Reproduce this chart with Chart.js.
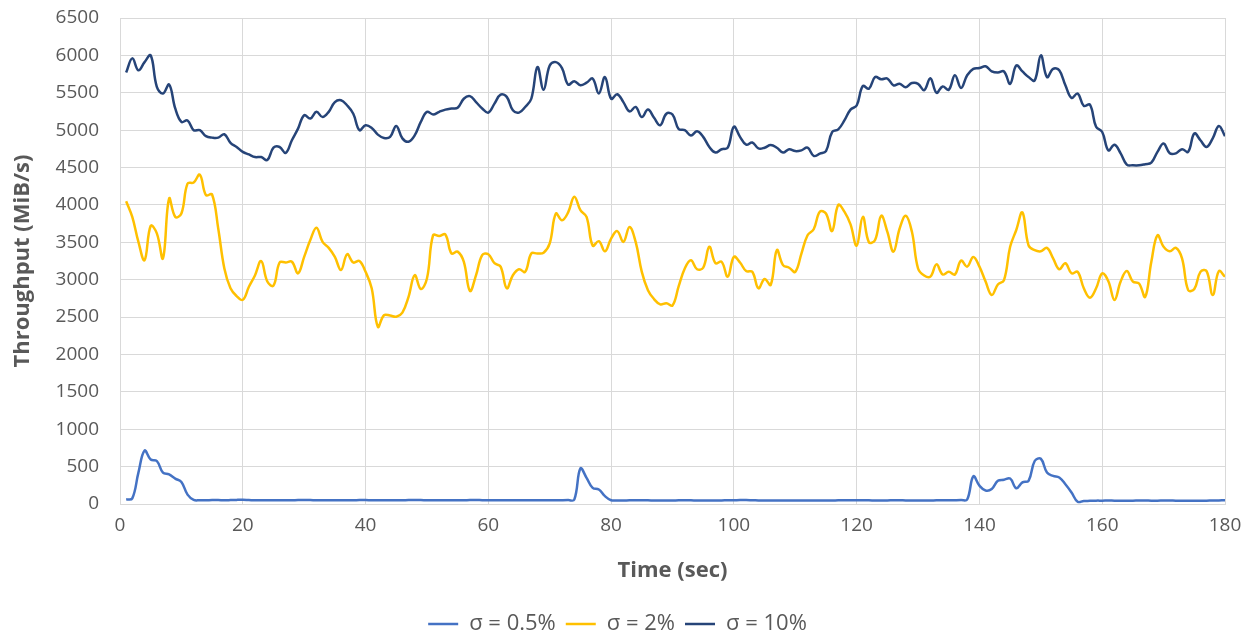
<!DOCTYPE html>
<html>
<head>
<meta charset="utf-8">
<script src="https://cdn.jsdelivr.net/npm/chart.js@4"></script>
<style>
  html, body { margin: 0; padding: 0; background: #ffffff; }
  #wrap { width: 1252px; height: 636px; }
</style>
</head>
<body>
<div id="wrap"><canvas id="throughputChart" width="1252" height="636"></canvas></div>
<script>
// series names (legend)
const seriesNames = ["σ = 0.5%", "σ = 2%", "σ = 10%"];

// throughput (MiB/s), one value per second, t = 1..180
const sigma05 = [
  60, 75, 420, 715, 595, 575, 420, 395, 340, 295,
  125, 55, 50, 50, 52, 52, 50, 52, 55, 56,
  53, 50, 50, 50, 50, 50, 50, 51, 52, 53,
  52, 50, 50, 50, 51, 51, 50, 50, 52, 52,
  51, 50, 50, 50, 50, 51, 52, 52, 52, 51,
  50, 50, 50, 50, 50, 51, 52, 53, 51, 50,
  50, 51, 50, 50, 50, 50, 51, 51, 50, 50,
  50, 50, 52, 58, 475, 350, 215, 195, 105, 50,
  48, 48, 49, 50, 50, 49, 48, 48, 48, 48,
  49, 50, 49, 48, 48, 48, 47, 48, 49, 50,
  52, 52, 50, 48, 47, 48, 48, 48, 48, 47,
  48, 48, 48, 48, 48, 48, 49, 50, 50, 50,
  50, 49, 48, 48, 48, 49, 49, 48, 48, 48,
  48, 48, 49, 50, 50, 50, 52, 60, 370, 245,
  180, 200, 310, 325, 340, 210, 290, 310, 575, 605,
  420, 375, 355, 265, 155, 30, 40, 42, 45, 45,
  46, 45, 45, 45, 45, 46, 46, 45, 45, 46,
  46, 45, 45, 45, 44, 45, 45, 46, 48, 50
];

const sigma2 = [
  4050, 3840, 3505, 3260, 3720, 3620, 3285, 4085, 3840, 3885,
  4285, 4300, 4405, 4130, 4140, 3685, 3150, 2885, 2780, 2730,
  2905, 3060, 3250, 2975, 2920, 3230, 3230, 3240, 3085, 3305,
  3530, 3695, 3505, 3425, 3305, 3130, 3340, 3230, 3250, 3105,
  2885, 2370, 2525, 2520, 2505, 2560, 2770, 3060, 2875, 3015,
  3595, 3585, 3605, 3350, 3375, 3240, 2850, 3060, 3330, 3340,
  3220, 3175, 2885, 3060, 3140, 3105, 3350, 3350, 3360, 3485,
  3885, 3795, 3900, 4110, 3930, 3840, 3455, 3515, 3380, 3550,
  3650, 3505, 3705, 3505, 3105, 2860, 2740, 2670, 2685, 2655,
  2910, 3150, 3260, 3140, 3160, 3440, 3220, 3240, 3040, 3305,
  3230, 3115, 3105, 2885, 3010, 2930, 3395, 3195, 3160, 3105,
  3350, 3595, 3675, 3910, 3885, 3650, 4000, 3910, 3740, 3455,
  3840, 3500, 3530, 3855, 3640, 3375, 3685, 3855, 3640, 3150,
  3055, 3040, 3205, 3070, 3105, 3070, 3255, 3175, 3305, 3175,
  2975, 2795, 2935, 2995, 3440, 3665, 3900, 3460, 3395, 3380,
  3425, 3285, 3140, 3220, 3085, 3105, 2885, 2760, 2885, 3085,
  2980, 2730, 2975, 3115, 2975, 2950, 2770, 3240, 3595, 3440,
  3380, 3425, 3285, 2860, 2875, 3105, 3115, 2795, 3115, 3040
];

const sigma10 = [
  5770, 5960, 5800, 5910, 6000, 5580, 5490, 5610, 5290, 5110,
  5130, 5000, 5000, 4920, 4900, 4900, 4945, 4830, 4775, 4710,
  4675, 4640, 4640, 4600, 4765, 4775, 4695, 4865, 5020, 5200,
  5155, 5245, 5175, 5245, 5375, 5400, 5330, 5220, 5000, 5065,
  5030, 4940, 4895, 4910, 5057, 4890, 4845, 4930, 5110, 5245,
  5210, 5245, 5275, 5290, 5300, 5420, 5455, 5375, 5290, 5235,
  5355, 5475, 5445, 5265, 5235, 5310, 5420, 5845, 5540, 5865,
  5910, 5830, 5610, 5655, 5600, 5635, 5690, 5490, 5710, 5420,
  5480, 5375, 5250, 5310, 5175, 5275, 5165, 5065, 5220, 5210,
  5015, 5000, 4930, 4985, 4910, 4775, 4700, 4745, 4765, 5045,
  4910, 4805, 4835, 4755, 4765, 4800, 4765, 4700, 4745, 4720,
  4730, 4765, 4655, 4685, 4720, 4975, 5010, 5130, 5275, 5330,
  5590, 5555, 5710, 5680, 5690, 5600, 5620, 5575, 5630, 5620,
  5535, 5695, 5500, 5585, 5540, 5735, 5565, 5735, 5820, 5830,
  5855, 5785, 5770, 5785, 5620, 5865, 5785, 5710, 5665, 6000,
  5710, 5820, 5800, 5600, 5430, 5490, 5325, 5340, 5045, 4975,
  4730, 4805, 4690, 4540, 4530, 4530, 4545, 4565, 4710, 4820,
  4690, 4690, 4745, 4710, 4955, 4865, 4775, 4890, 5055, 4920
];

// time axis, seconds 1..180
const seconds = [];
for (let t = 1; t <= sigma10.length; t++) seconds.push(t);

const textColor = "#595959";
const gridColor = "#D9D9D9";
const fontFamily = "'Open Sans', 'Liberation Sans', sans-serif";

const ctx = document.getElementById("throughputChart").getContext("2d");

function lineSet(label, values, color) {
  return {
    label: label,
    data: values,
    borderColor: color,
    backgroundColor: color,
    borderWidth: 2.5,
    pointRadius: 0,
    tension: 0.4,
    fill: false,
  };
}

const throughputChart = new Chart(ctx, {
  type: "line",
  data: {
    labels: seconds,
    datasets: [
      lineSet(seriesNames[0], sigma05, "#4472C4"),
      lineSet(seriesNames[1], sigma2, "#FFC000"),
      lineSet(seriesNames[2], sigma10, "#264478"),
    ],
  },
  options: {
    responsive: false,
    animation: false,
    devicePixelRatio: 1,
    layout: {
      padding: { left: 10, right: 27, top: 18, bottom: -9 },
    },
    plugins: {
      tooltip: { enabled: false },
      legend: {
        position: "bottom",
        labels: {
          color: textColor,
          font: { family: fontFamily, size: 22 },
          usePointStyle: true,
          pointStyle: "line",
          pointStyleWidth: 30,
          padding: 10,
        },
      },
    },
    scales: {
      x: {
        type: "linear",
        min: 0,
        max: 180,
        afterFit: (scale) => { scale.height = 99; },
        ticks: {
          stepSize: 20,
          color: textColor,
          font: { family: fontFamily, size: 19 },
          padding: 10,
          maxRotation: 0,
          callback: (v) => String(v),
        },
        grid: { color: gridColor, drawTicks: false },
        border: { color: gridColor },
        title: {
          display: true,
          text: "Time (sec)",
          color: textColor,
          font: { family: fontFamily, size: 22, weight: "bold" },
          padding: { top: 0, bottom: 19 },
        },
      },
      y: {
        min: 0,
        max: 6500,
        afterFit: (scale) => {
          scale.width = 110;
          // tick padding would otherwise push the plot top down
          scale.paddingTop = 0;
          scale.paddingBottom = 0;
        },
        ticks: {
          stepSize: 500,
          color: textColor,
          font: { family: fontFamily, size: 19 },
          padding: 21,
          callback: (v) => String(v),
        },
        grid: { color: gridColor, drawTicks: false },
        border: { color: gridColor },
        title: {
          display: true,
          text: "Throughput (MiB/s)",
          color: textColor,
          font: { family: fontFamily, size: 22, weight: "bold" },
          padding: { top: 0, bottom: 0 },
        },
      },
    },
  },
});
</script>
</body>
</html>
